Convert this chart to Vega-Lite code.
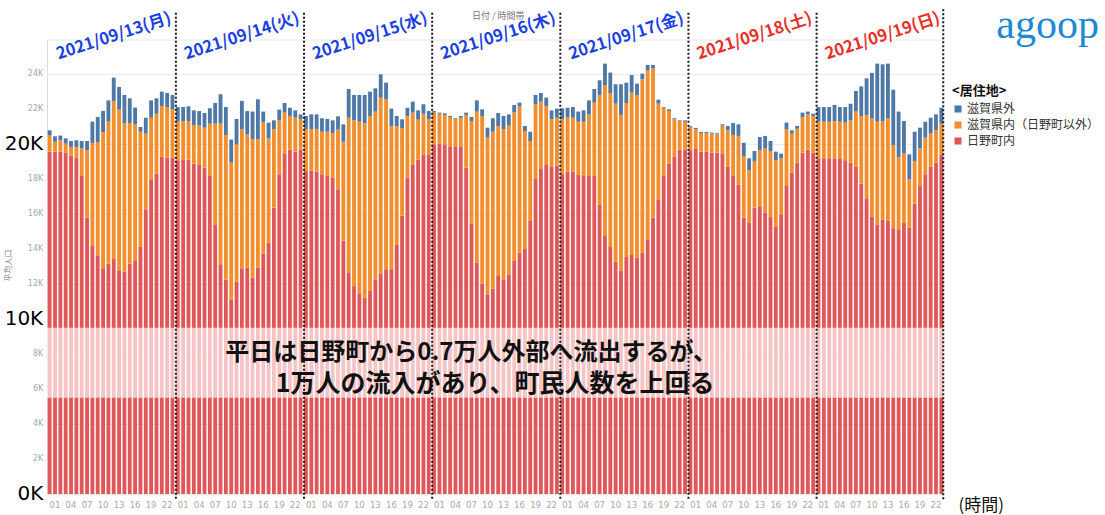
{
"$schema": "https://vega.github.io/schema/vega-lite/v6.json",
"width": 897, "height": 454,
"autosize": {"type": "none"},
"padding": {"left": 47, "top": 40, "right": 161, "bottom": 21},
"background": "white",
"config": {"view": {"stroke": null}},
"data": {"values": [
{"t":"13 00","a":19560,"b":950,"c":270},{"t":"13 01","a":19560,"b":570,"c":310},{"t":"13 02","a":19560,"b":650,"c":270},{"t":"13 03","a":19490,"b":530,"c":300},{"t":"13 04","a":19330,"b":500,"c":340},{"t":"13 05","a":19220,"b":610,"c":380},{"t":"13 06","a":18170,"b":1580,"c":420},{"t":"13 07","a":15790,"b":3850,"c":530},{"t":"13 08","a":14170,"b":5890,"c":1220},{"t":"13 09","a":13600,"b":6500,"c":1440},{"t":"13 10","a":12900,"b":7770,"c":1220},{"t":"13 11","a":13160,"b":8120,"c":1210},{"t":"13 12","a":13470,"b":8990,"c":1330},{"t":"13 13","a":12780,"b":9200,"c":1280},{"t":"13 14","a":12700,"b":8500,"c":1600},{"t":"13 15","a":13160,"b":8040,"c":1410},{"t":"13 16","a":13310,"b":7810,"c":960},{"t":"13 17","a":14120,"b":6580,"c":270},{"t":"13 18","a":16270,"b":4320,"c":910},{"t":"13 19","a":17980,"b":3520,"c":990},{"t":"13 20","a":18300,"b":3430,"c":880},{"t":"13 21","a":19260,"b":2910,"c":820},{"t":"13 22","a":19220,"b":2890,"c":800},{"t":"13 23","a":19220,"b":2760,"c":820},
{"t":"14 00","a":19070,"b":2200,"c":840},{"t":"14 01","a":19120,"b":2190,"c":800},{"t":"14 02","a":19100,"b":2210,"c":840},{"t":"14 03","a":18870,"b":2210,"c":840},{"t":"14 04","a":18840,"b":2210,"c":830},{"t":"14 05","a":18650,"b":2280,"c":840},{"t":"14 06","a":18170,"b":2990,"c":880},{"t":"14 07","a":15410,"b":5750,"c":1180},{"t":"14 08","a":13120,"b":8040,"c":1680},{"t":"14 09","a":12260,"b":8250,"c":1600},{"t":"14 10","a":11120,"b":7810,"c":1320},{"t":"14 11","a":12130,"b":7850,"c":1450},{"t":"14 12","a":12900,"b":7940,"c":1620},{"t":"14 13","a":12930,"b":7620,"c":1330},{"t":"14 14","a":12360,"b":7910,"c":1580},{"t":"14 15","a":12930,"b":7340,"c":2280},{"t":"14 16","a":13730,"b":7510,"c":610},{"t":"14 17","a":14360,"b":5960,"c":900},{"t":"14 18","a":16360,"b":4480,"c":510},{"t":"14 19","a":18270,"b":3080,"c":610},{"t":"14 20","a":19450,"b":2340,"c":550},{"t":"14 21","a":19690,"b":1910,"c":470},{"t":"14 22","a":19560,"b":1940,"c":420},{"t":"14 23","a":19690,"b":1720,"c":280},
{"t":"15 00","a":18460,"b":2380,"c":760},{"t":"15 01","a":18460,"b":2400,"c":830},{"t":"15 02","a":18420,"b":2440,"c":830},{"t":"15 03","a":18270,"b":2430,"c":770},{"t":"15 04","a":18170,"b":2530,"c":730},{"t":"15 05","a":18080,"b":2550,"c":720},{"t":"15 06","a":17410,"b":3410,"c":760},{"t":"15 07","a":14490,"b":5640,"c":990},{"t":"15 08","a":12630,"b":8870,"c":1640},{"t":"15 09","a":11880,"b":9470,"c":1450},{"t":"15 10","a":11470,"b":9800,"c":1530},{"t":"15 11","a":11220,"b":9980,"c":1600},{"t":"15 12","a":11600,"b":10000,"c":1390},{"t":"15 13","a":12260,"b":9590,"c":1330},{"t":"15 14","a":12610,"b":10040,"c":1330},{"t":"15 15","a":12840,"b":9710,"c":950},{"t":"15 16","a":12840,"b":8190,"c":990},{"t":"15 17","a":14230,"b":6780,"c":590},{"t":"15 18","a":15900,"b":4990,"c":520},{"t":"15 19","a":18080,"b":3500,"c":490},{"t":"15 20","a":18800,"b":2990,"c":630},{"t":"15 21","a":19100,"b":2290,"c":530},{"t":"15 22","a":19370,"b":2360,"c":540},{"t":"15 23","a":19410,"b":2000,"c":470},
{"t":"16 00","a":19980,"b":1810,"c":90},{"t":"16 01","a":20020,"b":1710,"c":60},{"t":"16 02","a":19980,"b":1680,"c":90},{"t":"16 03","a":19870,"b":1670,"c":60},{"t":"16 04","a":19830,"b":1580,"c":60},{"t":"16 05","a":19830,"b":1670,"c":100},{"t":"16 06","a":18650,"b":3010,"c":130},{"t":"16 07","a":15450,"b":5860,"c":230},{"t":"16 08","a":13220,"b":8630,"c":640},{"t":"16 09","a":12020,"b":9580,"c":380},{"t":"16 10","a":11410,"b":8950,"c":570},{"t":"16 11","a":11730,"b":8970,"c":770},{"t":"16 12","a":12460,"b":8550,"c":760},{"t":"16 13","a":12230,"b":8610,"c":760},{"t":"16 14","a":12550,"b":8530,"c":610},{"t":"16 15","a":13350,"b":8440,"c":440},{"t":"16 16","a":13790,"b":8360,"c":210},{"t":"16 17","a":14040,"b":6700,"c":290},{"t":"16 18","a":15640,"b":4530,"c":530},{"t":"16 19","a":18040,"b":4230,"c":530},{"t":"16 20","a":18610,"b":3810,"c":490},{"t":"16 21","a":18840,"b":3330,"c":480},{"t":"16 22","a":18690,"b":2720,"c":510},{"t":"16 23","a":18760,"b":2740,"c":520},
{"t":"17 00","a":18300,"b":3110,"c":630},{"t":"17 01","a":18420,"b":3120,"c":530},{"t":"17 02","a":18420,"b":3080,"c":610},{"t":"17 03","a":18230,"b":3040,"c":580},{"t":"17 04","a":18170,"b":3100,"c":650},{"t":"17 05","a":18170,"b":3520,"c":800},{"t":"17 06","a":18170,"b":4190,"c":780},{"t":"17 07","a":16550,"b":6250,"c":840},{"t":"17 08","a":14740,"b":8630,"c":1220},{"t":"17 09","a":14110,"b":8800,"c":1170},{"t":"17 10","a":13270,"b":9030,"c":1110},{"t":"17 11","a":12780,"b":8880,"c":1750},{"t":"17 12","a":13540,"b":8800,"c":1160},{"t":"17 13","a":13660,"b":9270,"c":1010},{"t":"17 14","a":13500,"b":9300,"c":650},{"t":"17 15","a":13790,"b":9900,"c":330},{"t":"17 16","a":14550,"b":9660,"c":300},{"t":"17 17","a":15790,"b":8530,"c":190},{"t":"17 18","a":16840,"b":5460,"c":230},{"t":"17 19","a":18170,"b":3900,"c":40},{"t":"17 20","a":18870,"b":3010,"c":100},{"t":"17 21","a":19260,"b":2150,"c":60},{"t":"17 22","a":19690,"b":1620,"c":40},{"t":"17 23","a":19690,"b":1580,"c":80},
{"t":"18 00","a":19690,"b":1240,"c":80},{"t":"18 01","a":19750,"b":1090,"c":80},{"t":"18 02","a":19560,"b":1070,"c":60},{"t":"18 03","a":19560,"b":1070,"c":60},{"t":"18 04","a":19500,"b":1090,"c":60},{"t":"18 05","a":19500,"b":1050,"c":60},{"t":"18 06","a":19450,"b":1600,"c":70},{"t":"18 07","a":18690,"b":2090,"c":250},{"t":"18 08","a":18170,"b":2340,"c":690},{"t":"18 09","a":17660,"b":2800,"c":660},{"t":"18 10","a":15790,"b":3520,"c":760},{"t":"18 11","a":15490,"b":3000,"c":690},{"t":"18 12","a":16360,"b":2670,"c":570},{"t":"18 13","a":16440,"b":3200,"c":760},{"t":"18 14","a":16080,"b":3670,"c":710},{"t":"18 15","a":15830,"b":3770,"c":570},{"t":"18 16","a":15260,"b":3810,"c":490},{"t":"18 17","a":15940,"b":3240,"c":270},{"t":"18 18","a":17600,"b":3240,"c":380},{"t":"18 19","a":18360,"b":2230,"c":190},{"t":"18 20","a":18930,"b":1940,"c":160},{"t":"18 21","a":19500,"b":2040,"c":250},{"t":"18 22","a":19690,"b":2000,"c":160},{"t":"18 23","a":19500,"b":2100,"c":130},
{"t":"19 00","a":19180,"b":2090,"c":840},{"t":"19 01","a":19180,"b":2090,"c":840},{"t":"19 02","a":19180,"b":2090,"c":840},{"t":"19 03","a":19180,"b":2130,"c":920},{"t":"19 04","a":19180,"b":2090,"c":840},{"t":"19 05","a":19070,"b":2150,"c":890},{"t":"19 06","a":18930,"b":2420,"c":950},{"t":"19 07","a":18690,"b":3190,"c":1150},{"t":"19 08","a":17730,"b":3870,"c":1690},{"t":"19 09","a":16900,"b":4760,"c":2090},{"t":"19 10","a":15830,"b":5640,"c":2590},{"t":"19 11","a":15370,"b":5900,"c":3320},{"t":"19 12","a":15690,"b":5620,"c":3240},{"t":"19 13","a":15600,"b":5870,"c":3120},{"t":"19 14","a":15180,"b":4760,"c":3160},{"t":"19 15","a":15120,"b":4140,"c":2590},{"t":"19 16","a":15500,"b":3950,"c":1860},{"t":"19 17","a":15220,"b":2760,"c":1430},{"t":"19 18","a":16590,"b":2440,"c":1670},{"t":"19 19","a":17600,"b":2150,"c":1180},{"t":"19 20","a":18270,"b":2090,"c":910},{"t":"19 21","a":18690,"b":1900,"c":910},{"t":"19 22","a":18930,"b":1850,"c":910},{"t":"19 23","a":19370,"b":1790,"c":910}
]},
"layer": [
{
"transform": [{"fold": ["a","b","c"], "as": ["k","v"]}],
"mark": {"type": "bar"},
"encoding": {
"x": {"field": "t", "type": "ordinal", "title": "(時間)",
"scale": {"paddingInner": 0.28, "paddingOuter": 0.14},
"axis": {"labelExpr": "indexof(['01','04','07','10','13','16','19','22'], slice(datum.value, 3)) >= 0 ? slice(datum.value, 3) : ''", "labelAngle": 0, "labelFontSize": 8.5, "labelColor": "#a8a8a8", "labelFont": "DejaVu Sans", "labelPadding": 6, "labelOverlap": false, "ticks": false, "domain": false, "grid": false, "titleX": 911, "titleY": 11, "titleAlign": "left", "titleBaseline": "middle", "titleFontSize": 17, "titleFont": "Noto Sans CJK JP", "titleFontWeight": "normal", "titleColor": "#111"}},
"y": {"field": "v", "type": "quantitative", "stack": "zero", "title": "平均人口",
"scale": {"domain": [0, 25940], "nice": false},
"axis": {"values": [0,2000,4000,6000,8000,10000,12000,14000,16000,18000,20000,22000,24000], "labels": false, "ticks": false, "domainColor": "#dddddd", "grid": true, "gridColor": "#ebebeb",
"titleX": -35, "titleY": 225, "titleFontSize": 8, "titleColor": "#8a8a8a", "titleFontWeight": "normal", "titleFont": "Noto Sans CJK JP"}},
"color": {"field": "k", "type": "nominal",
"scale": {"domain": ["c","b","a"], "range": ["#4e79a7","#f28e2b","#e15759"]},
"legend": {"orient": "none", "legendX": 905, "legendY": 45, "title": "<居住地>", "titleFontSize": 13, "titleFont": "Noto Sans CJK JP", "titleFontWeight": "bold", "titleColor": "#111", "labelFont": "Noto Sans CJK JP", "labelFontSize": 12, "labelColor": "#333", "symbolType": "square", "symbolSize": 50, "symbolStrokeWidth": 0, "rowPadding": 4, "titlePadding": 5, "labelOffset": 3, "labelLimit": 300,
"labelExpr": "datum.label == 'c' ? '滋賀県外' : datum.label == 'b' ? '滋賀県内（日野町以外）' : '日野町内'"}},
"order": {"field": "k", "type": "ordinal"}
}
},
{
"data": {"values": [{}]},
"mark": {"type": "rect", "color": "white", "opacity": 0.66},
"encoding": {
"x": {"value": 0}, "x2": {"value": "width"},
"y": {"datum": 9500, "type": "quantitative", "title": "平均人口"}, "y2": {"datum": 5500}
}
},
{
"data": {"values": [{}]},
"mark": {"type": "rule", "color": "#e6e6e6", "strokeWidth": 1},
"encoding": {"y": {"datum": 25940, "type": "quantitative", "title": "平均人口"}}
},
{
"data": {"values": [
{"v": 0, "s": "0K"}, {"v": 2000, "s": "2K"}, {"v": 4000, "s": "4K"}, {"v": 6000, "s": "6K"}, {"v": 8000, "s": "8K"}, {"v": 10000, "s": "10K"}, {"v": 12000, "s": "12K"}, {"v": 14000, "s": "14K"}, {"v": 16000, "s": "16K"}, {"v": 18000, "s": "18K"}, {"v": 20000, "s": "20K"}, {"v": 22000, "s": "22K"}, {"v": 24000, "s": "24K"}
]},
"mark": {"type": "text", "font": "DejaVu Sans", "align": "right", "baseline": "middle", "dx": -4.5},
"encoding": {
"x": {"datum": "13 00", "type": "ordinal", "bandPosition": 0, "title": "(時間)"},
"y": {"field": "v", "type": "quantitative", "title": "平均人口"},
"text": {"field": "s"},
"size": {"condition": {"test": "datum.v % 10000 === 0", "value": 20}, "value": 8},
"color": {"condition": {"test": "datum.v % 10000 === 0", "value": "#000000"}, "value": "#a8a8a8"}
}
},
{
"transform": [{"filter": "slice(datum.t, 3) == '00' && slice(datum.t, 0, 2) != '13'"}],
"mark": {"type": "rule", "color": "#1a1a1a", "strokeWidth": 2, "strokeDash": [2, 2]},
"encoding": {
"x": {"field": "t", "type": "ordinal", "bandPosition": 0, "title": "(時間)"},
"y": {"datum": 27500, "type": "quantitative", "title": "平均人口"}, "y2": {"datum": -350}
}
},
{
"transform": [{"filter": "datum.t == '19 23'"}],
"mark": {"type": "rule", "color": "#1a1a1a", "strokeWidth": 2, "strokeDash": [2, 2]},
"encoding": {
"x": {"field": "t", "type": "ordinal", "bandPosition": 1, "title": "(時間)"},
"y": {"datum": 27700, "type": "quantitative", "title": "平均人口"}, "y2": {"datum": -350}
}
},
{
"data": {"values": [{}]},
"mark": {"type": "text", "font": "Noto Sans CJK JP", "fontWeight": "bold", "fontSize": 24, "color": "#111", "align": "center", "baseline": "middle", "dx": 5},
"encoding": {
"x": {"datum": "16 06", "type": "ordinal", "title": "(時間)"},
"y": {"datum": 8060, "type": "quantitative", "title": "平均人口"},
"text": {"value": "平日は日野町から0.7万人外部へ流出するが、"}
}
},
{
"data": {"values": [{}]},
"mark": {"type": "text", "font": "Noto Sans CJK JP", "fontWeight": "bold", "fontSize": 25, "color": "#111", "align": "center", "baseline": "middle", "dx": -3},
"encoding": {
"x": {"datum": "16 12", "type": "ordinal", "title": "(時間)"},
"y": {"datum": 6260, "type": "quantitative", "title": "平均人口"},
"text": {"value": "1万人の流入があり、町民人数を上回る"}
}
},
{
"data": {"values": [{}]},
"mark": {"type": "text", "font": "Noto Sans CJK JP", "fontSize": 9, "color": "#777", "align": "center", "baseline": "middle"},
"encoding": {
"x": {"datum": "16 12", "type": "ordinal", "title": "(時間)"},
"y": {"datum": 27300, "type": "quantitative", "title": "平均人口"},
"text": {"value": "日付 / 時間帯"}
}
},
{
"data": {"values": [
{"d": "2021/09/13(月)", "t": "13 12"},
{"d": "2021/09/14(火)", "t": "14 12"},
{"d": "2021/09/15(水)", "t": "15 12"},
{"d": "2021/09/16(木)", "t": "16 12"},
{"d": "2021/09/17(金)", "t": "17 12"},
{"d": "2021/09/18(土)", "t": "18 12"},
{"d": "2021/09/19(日)", "t": "19 12"}
]},
"mark": {"type": "text", "font": "Noto Sans CJK JP", "fontWeight": "bold", "fontSize": 16.5, "angle": 342, "align": "center", "baseline": "middle"},
"encoding": {
"x": {"field": "t", "type": "ordinal", "title": "(時間)"},
"y": {"datum": 26150, "type": "quantitative", "title": "平均人口"},
"text": {"field": "d"},
"color": {"condition": {"test": "test(/[土日]\\)$/, datum.d)", "value": "#e8302a"}, "value": "#1c3fe2"}
}
},
{
"data": {"values": [{}]},
"mark": {"type": "text", "font": "Liberation Serif", "fontSize": 42, "color": "#1e8ad6", "align": "left", "baseline": "alphabetic", "dx": 55},
"encoding": {
"x": {"datum": "19 23", "type": "ordinal", "title": "(時間)"},
"y": {"datum": 26060, "type": "quantitative", "title": "平均人口"},
"text": {"value": "agoop"}
}
}
]
}
